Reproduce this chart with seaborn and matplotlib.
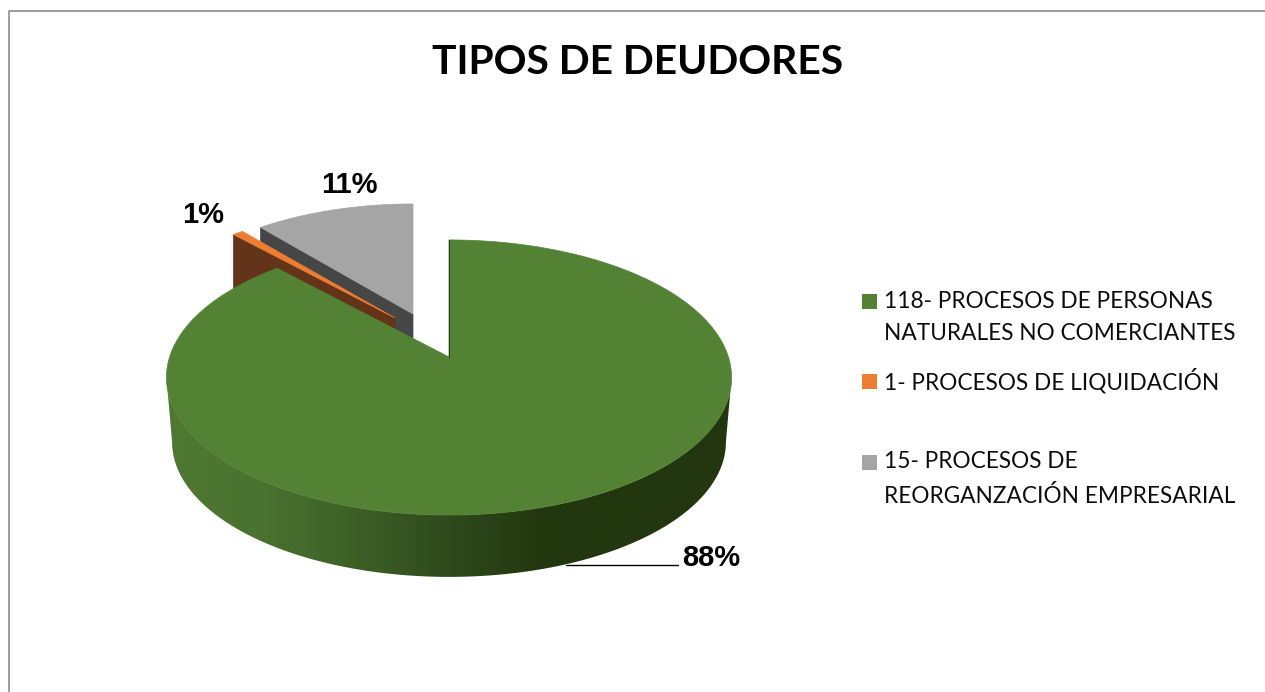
import numpy as np
import matplotlib
matplotlib.use("Agg")
import matplotlib.pyplot as plt
from matplotlib.patches import Rectangle, Polygon
from matplotlib.colors import to_rgb
import seaborn as sns

# =============================================
# data
categories = ["118- PROCESOS DE PERSONAS\nNATURALES NO COMERCIANTES",
              "1- PROCESOS DE LIQUIDACIÓN",
              "15- PROCESOS DE\nREORGANZACIÓN EMPRESARIAL"]
counts = [118, 1, 15]
title = "TIPOS DE DEUDORES"

top_colors = ["#548235", "#ED7D31", "#A5A5A5"]
wall_colors = ["#22360f", "#64341A", "#464646"]

# =============================================
# layout, in pixels of the 1265x692 picture
cx, cy = 449, 357
R, a, k = 279.4, 134.5, 0.149  # perspective of the pie's top face
offsets = [(0, 0), (-54, -39), (-36, -43)]  # exploded slices
scales = [1, 0.94, 0.94]
depths = [65, 58, 58]
label_pos = [(711, 558), (203, 215), (349, 185)]
legend_squares = [294, 374, 455]
legend_lines = [(302, 334), (381,), (462, 496)]

sns.set_theme(style="white")
plt.rcParams['font.family'] = ['Lato', 'DejaVu Sans']

fig = plt.figure(figsize=(12.65, 6.92), dpi=100)
ax = fig.add_axes([0, 0, 1, 1])

# the pie gives the angles, the slices are then redrawn in perspective
wedges, _ = ax.pie(counts, startangle=90, counterclock=False, colors=top_colors)
angles = [(w.theta2, w.theta1) for w in wedges]  # clockwise start, end
for w in wedges:
    w.remove()


def project(theta, i, r=1.0, drop=0.0, shrink=1.0):
    theta = np.radians(theta)
    u, v = r * np.cos(theta), r * np.sin(theta)
    w = 1 + k * v
    s = scales[i] * shrink
    return (cx + offsets[i][0] + s * R * u / w,
            cy + offsets[i][1] + drop - s * a * v / w)


def draw_top(i):
    arc = np.linspace(angles[i][0], angles[i][1], 300)
    x, y = project(arc, i)
    x0, y0 = project(0.0, i, r=0.0)
    ax.fill(np.r_[x0, x], np.r_[y0, y], color=top_colors[i], lw=0.5, zorder=3)


def draw_cut_wall(i):
    t = angles[i][0]
    x0, y0 = project(t, i)
    x1, y1 = project(t, i, r=0.0)
    x2, y2 = project(t, i, r=0.0, drop=depths[i])
    x3, y3 = project(t, i, drop=depths[i])
    ax.fill([x0, x1, x2, x3], [y0, y1, y2, y3], color=wall_colors[i], lw=0.5, zorder=3)


# gray, then orange: they stand behind the green slice
for i in [2, 1]:
    draw_cut_wall(i)
    draw_top(i)

# green outer wall, shaded by x and clipped to the rim between its widest points
shades = sns.blend_palette(["#4f7932", "#4a7230", "#3d6027", "#2e4a1b", "#23370f", "#22360f", "#22360f"], 256)
gradient = np.array([to_rgb(c) for c in shades])[np.newaxis, :, :]
widest = np.degrees(np.arcsin(-k))
front = np.linspace(widest, -180 - widest, 400)
xt, yt = project(front, 0)
xb, yb = project(front[::-1], 0, drop=depths[0], shrink=0.98)
rim = Polygon(np.c_[np.r_[xt, xb], np.r_[yt, yb]], closed=True, transform=ax.transData)
im = ax.imshow(gradient, extent=(167, 732, 600, 360), aspect='auto', zorder=3)
im.set_clip_path(rim)
draw_top(0)
xe, ye = project(angles[0][0], 0)
ax.plot([xe, cx], [ye, cy], color="#2a3f1a", lw=0.8, zorder=4)

# data labels
total = sum(counts)
for v, pos in zip(counts, label_pos):
    ax.text(pos[0], pos[1], f"{round(100 * v / total)}%", fontsize=21, fontweight='bold',
            family='Liberation Sans', color='black', ha='center', va='center', zorder=6)
ax.plot([566, 678], [565, 565], color='black', lw=1.0, zorder=5)

# legend
for name, col, ys, yts in zip(categories, top_colors, legend_squares, legend_lines):
    ax.add_patch(Rectangle((862, ys), 15, 15, facecolor=col, edgecolor='none', zorder=5))
    for line, yt in zip(name.split("\n"), yts):
        ax.text(884, yt, line, fontsize=16.3, color='#0d0d0d', ha='left', va='center', zorder=6)

ax.text(638, 63, title, fontsize=29.3, fontweight='bold', color='black', ha='center', va='center')

# chart border, cut by the crop on the right and at the bottom
ax.plot([9, 9, 1265], [692, 11, 11], color='#8c8c8c', lw=1.2, zorder=2)

ax.set_aspect('auto')
ax.set_xlim(0, 1265)
ax.set_ylim(692, 0)
ax.axis('off')

plt.savefig('out.png', dpi=100)
plt.close()
